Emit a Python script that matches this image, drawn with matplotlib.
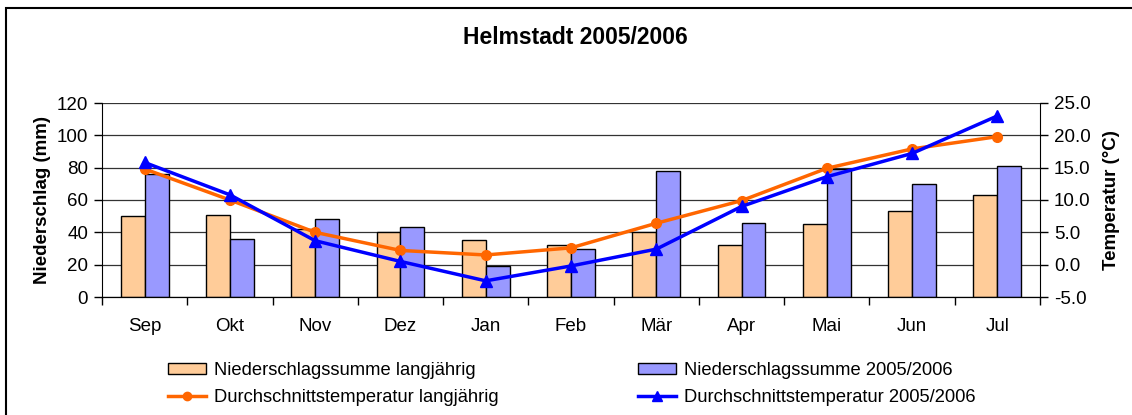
import matplotlib
matplotlib.use("Agg")
import matplotlib.pyplot as plt
import numpy as np
from matplotlib.patches import Rectangle
from matplotlib.lines import Line2D
from matplotlib.patches import Patch

plt.rcParams['font.family'] = ['Liberation Sans', 'DejaVu Sans']

months = ["Sep", "Okt", "Nov", "Dez", "Jan", "Feb", "Mär", "Apr", "Mai", "Jun", "Jul"]
rain_long = [50, 51, 42, 40, 35, 32, 40, 32, 45, 53, 63]
rain_0506 = [76, 36, 48, 43, 19, 30, 78, 46, 79, 70, 81]
temp_long = [14.8, 10.0, 5.0, 2.2, 1.5, 2.6, 6.4, 9.9, 14.9, 17.9, 19.8]
temp_0506 = [15.8, 10.8, 3.7, 0.5, -2.5, -0.2, 2.4, 9.0, 13.6, 17.2, 23.0]

W, H = 1132, 415
fig = plt.figure(figsize=(W / 100, H / 100), dpi=100)

# outer frame
fig.patches.append(Rectangle((6 / W, -0.1), 1.2, 1 - 8 / H + 0.1, transform=fig.transFigure,
                             fill=False, edgecolor='black', linewidth=1.5))

ax = fig.add_axes([102 / W, 1 - 297 / H, (1040 - 102) / W, (297 - 103) / H])
x = np.arange(len(months))
bw = 0.28
ax.bar(x - bw / 2, rain_long, bw, color='#FFCC99', edgecolor='black', linewidth=1, zorder=2)
ax.bar(x + bw / 2, rain_0506, bw, color='#9999FF', edgecolor='black', linewidth=1, zorder=2)
ax.set_xlim(-0.5, len(months) - 0.5)
ax.set_ylim(0, 120)
ax.set_yticks(np.arange(0, 121, 20))
ax.yaxis.grid(True, color='#333333', linewidth=0.9, zorder=0)
ax.set_axisbelow(True)
ax.set_xticks(x)
ax.set_xticklabels(months, fontsize=13.5)
ax.set_xticks(np.arange(-0.5, len(months)), minor=True)
ax.tick_params(axis='x', which='major', length=0, pad=15)
ax.tick_params(axis='x', which='minor', length=6, width=1, direction='out')
ax.tick_params(axis='y', labelsize=13.5, length=6, width=1, direction='out', pad=4)
ax.spines['top'].set_visible(False)
ax.spines['right'].set_visible(False)
ax.set_ylabel('Niederschlag (mm)', fontsize=13.5, fontweight='bold', labelpad=4)

ax2 = ax.twinx()
ax2.plot(x, temp_long, color='#FF6600', linewidth=2.5, marker='o', markersize=7, zorder=3)
ax2.plot(x, temp_0506, color='#0000FF', linewidth=2.5, marker='^', markersize=8.5, zorder=4)
ax2.set_ylim(-5, 25)
ax2.set_yticks(np.arange(-5, 25.1, 5))
ax2.set_yticklabels([f"{v:.1f}" for v in np.arange(-5, 25.1, 5)])
ax2.tick_params(axis='y', labelsize=13.5, length=6, width=1, direction='out', pad=4)
ax2.spines['top'].set_visible(False)
ax2.spines['left'].set_visible(False)
ax2.set_ylabel('Temperatur (°C)', fontsize=13.5, fontweight='bold', labelpad=9)

fig.text(575 / W, 1 - 38 / H, 'Helmstadt 2005/2006', ha='center', va='center',
         fontsize=16.5, fontweight='bold')

h_rain_long = Patch(facecolor='#FFCC99', edgecolor='black', linewidth=1)
h_temp_long = Line2D([], [], color='#FF6600', linewidth=2.5, marker='o', markersize=6)
h_rain_0506 = Patch(facecolor='#9999FF', edgecolor='black', linewidth=1)
h_temp_0506 = Line2D([], [], color='#0000FF', linewidth=2.5, marker='^', markersize=7)

common = dict(loc='upper left', frameon=False, fontsize=13.2, handlelength=2.05,
              handleheight=0.6, handletextpad=0.45, labelspacing=0.55,
              borderaxespad=0, borderpad=0)
fig.legend([h_rain_long, h_temp_long],
           ['Niederschlagssumme langjährig', 'Durchschnittstemperatur langjährig'],
           bbox_to_anchor=(168 / W, 1 - 362 / H), **common)
fig.legend([h_rain_0506, h_temp_0506],
           ['Niederschlagssumme 2005/2006', 'Durchschnittstemperatur 2005/2006'],
           bbox_to_anchor=(638 / W, 1 - 362 / H), **common)

fig.savefig('out.png', dpi=100)
